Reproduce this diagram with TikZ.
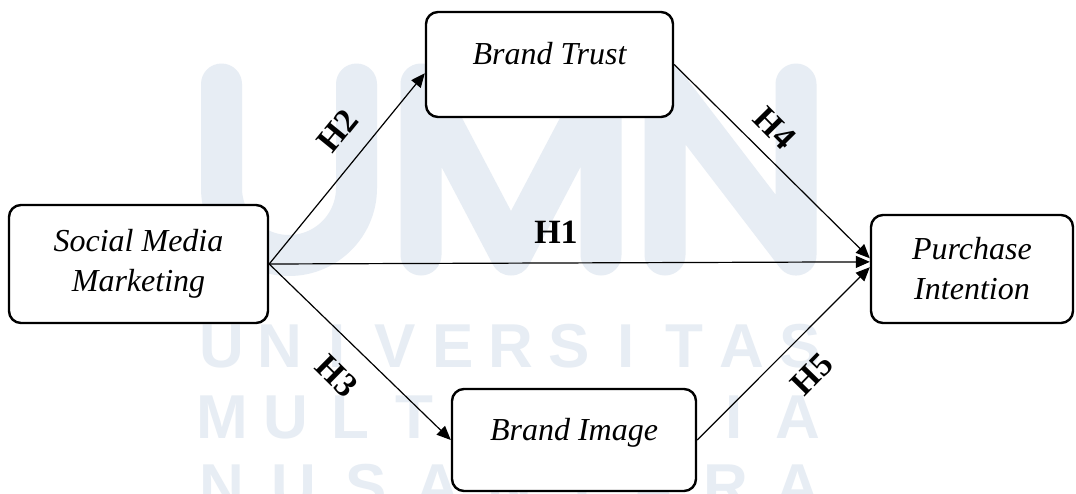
\documentclass[tikz,border=0pt]{standalone}
\usepackage{fontspec}
\setmainfont{Liberation Serif}
\newfontfamily\wmfont{Liberation Sans}
\usetikzlibrary{arrows.meta}

\definecolor{wmark}{RGB}{231,237,244}

\tikzset{
  box/.style={draw=black, fill=white, line width=1.2pt, rounded corners=6pt,
    font=\itshape\fontsize{16}{20}\selectfont, align=center, inner sep=2pt},
  toptext/.style={text height=11pt, text depth=11pt},
  arr/.style={line width=0.6pt, -{Triangle[length=7pt,width=6pt]}},
  hyp/.style={font=\bfseries\fontsize{17}{20}\selectfont, inner sep=1pt},
  bigwm/.style={draw=wmark, line width=20.5pt, line cap=round, line join=round},
  wmtext/.style={text=wmark, font=\wmfont\bfseries\fontsize{31}{31}\selectfont, inner sep=0pt}
}

\begin{document}
\begin{tikzpicture}[x=0.5pt, y=-0.5pt]
  \useasboundingbox (0,0) rectangle (1076,493);
  \fill[white] (0,0) rectangle (1076,493);
  \clip (0,0) rectangle (1076,493);

  % faint logo lettering in the background
  \draw[bigwm] (221.5,84) -- (221.5,188) arc[start angle=180, end angle=0, radius=67.5] -- (356.5,84);
  \draw[bigwm] (421,255) -- (421,84) -- (511,255) -- (601,84) -- (601,255);
  \draw[bigwm] (665,255) -- (665,84) -- (796,255) -- (796,84);
  \foreach \ch [count=\i] in {U,N,I,V,E,R,S,I,T,A,S}
    \node[wmtext] (wma\i) at ({222+(\i-1)*57.8},346) {\ch};
  \foreach \ch [count=\i] in {M,U,L,T,I,M,E,D,I,A}
    \node[wmtext] (wmb\i) at ({222+(\i-1)*64},417) {\ch};
  \foreach \ch [count=\i] in {N,U,S,A,N,T,A,R,A}
    \node[wmtext] (wmc\i) at ({222+(\i-1)*72},486) {\ch};

  % constructs
  \node[box, minimum width=129.5pt, minimum height=59pt] (smm) at (138.5,264) {Social Media\\Marketing};
  \node[box, toptext, minimum width=123.5pt, minimum height=52.5pt] (bt) at (549.5,64.5) {Brand Trust};
  \node[box, toptext, minimum width=122pt, minimum height=51pt] (bi) at (574,440) {Brand Image};
  \node[box, minimum width=101pt, minimum height=54pt] (pi) at (972,269) {Purchase\\Intention};

  % hypothesised paths
  \draw[arr] (smm.east) -- (pi.176);
  \draw[arr] (smm.east) -- (bt.184);
  \draw[arr] (smm.east) -- (bi.west);
  \draw[arr] (bt.east) -- (pi.174);
  \draw[arr] (bi.east) -- (pi.179);

  % path labels
  \node[hyp] (h1) at (556,232) {H1};
  \node[hyp, rotate=50.8] (h2) at (338,131) {H2};
  \node[hyp, rotate=-44.7] (h3) at (337,376) {H3};
  \node[hyp, rotate=-45.3] (h4) at (775,128) {H4};
  \node[hyp, rotate=45.7] (h5) at (812,374) {H5};
\end{tikzpicture}
\end{document}
